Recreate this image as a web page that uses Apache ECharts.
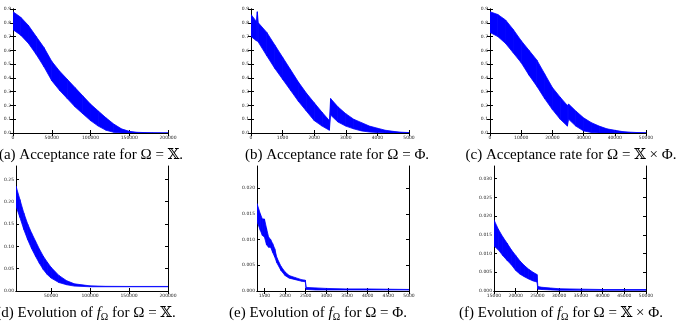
<!DOCTYPE html>
<html>
<head>
<meta charset="utf-8">
<script src="https://cdn.jsdelivr.net/npm/echarts@6/dist/echarts.min.js"></script>
<style>
html, body { margin: 0; padding: 0; background: #fff; }
#main { width: 678px; height: 322px; }
</style>
</head>
<body>
<div id="main"></div>
<script>
// (a) acceptance rate, Omega = X
var aX     = [0, 10000, 20000, 30000, 40000, 50000, 60000, 70000, 80000, 90000, 100000, 110000, 120000, 130000, 140000, 150000, 160000, 170000, 180000, 190000, 200000];
var aUpper = [0.88, 0.84, 0.78, 0.70, 0.62, 0.52, 0.45, 0.39, 0.33, 0.27, 0.21, 0.16, 0.11, 0.065, 0.03, 0.012, 0.005, 0.003, 0.002, 0.001, 0.001];
var aLower = [0.75, 0.71, 0.65, 0.57, 0.48, 0.38, 0.31, 0.25, 0.19, 0.14, 0.09, 0.05, 0.02, 0.005, 0, 0, 0, 0, 0, 0, 0];

// (b) acceptance rate, Omega = Phi
var bX     = [0, 170, 200, 230, 500, 750, 1000, 1250, 1500, 1750, 2000, 2250, 2480, 2520, 2750, 3000, 3250, 3500, 3750, 4000, 4250, 4500, 4750, 5000];
var bUpper = [0.86, 0.81, 0.88, 0.80, 0.73, 0.64, 0.55, 0.46, 0.37, 0.29, 0.22, 0.15, 0.09, 0.25, 0.19, 0.14, 0.10, 0.075, 0.05, 0.035, 0.02, 0.012, 0.006, 0.003];
var bLower = [0.70, 0.67, 0.67, 0.66, 0.56, 0.47, 0.39, 0.31, 0.23, 0.16, 0.09, 0.05, 0.02, 0.13, 0.08, 0.05, 0.03, 0.015, 0.007, 0.003, 0, 0, 0, 0];

// (c) acceptance rate, Omega = X x Phi
var cX     = [0, 2500, 5000, 7500, 10000, 12500, 15000, 17500, 20000, 22500, 24800, 25200, 27500, 30000, 32500, 35000, 37500, 40000, 42500, 45000, 47500, 50000];
var cUpper = [0.88, 0.86, 0.82, 0.75, 0.67, 0.60, 0.53, 0.43, 0.33, 0.26, 0.20, 0.21, 0.16, 0.11, 0.075, 0.05, 0.03, 0.02, 0.01, 0.006, 0.003, 0.002];
var cLower = [0.73, 0.70, 0.65, 0.58, 0.51, 0.42, 0.34, 0.25, 0.17, 0.10, 0.05, 0.10, 0.05, 0.015, 0.004, 0, 0, 0, 0, 0, 0, 0];

// (d) evolution of f, Omega = X
var dX     = [5000, 10000, 15000, 20000, 25000, 30000, 35000, 40000, 45000, 50000, 60000, 70000, 80000, 100000, 120000, 150000, 200000];
var dUpper = [0.235, 0.205, 0.175, 0.150, 0.130, 0.112, 0.094, 0.078, 0.065, 0.053, 0.035, 0.023, 0.016, 0.0115, 0.0105, 0.0102, 0.0102];
var dLower = [0.190, 0.165, 0.138, 0.115, 0.095, 0.078, 0.062, 0.048, 0.037, 0.029, 0.019, 0.014, 0.011, 0.0095, 0.0095, 0.0095, 0.0095];

// (e) evolution of f, Omega = Phi
var eX     = [1320, 1400, 1450, 1500, 1550, 1600, 1650, 1700, 1750, 1800, 1900, 2000, 2100, 2250, 2400, 2490, 2510, 2750, 3000, 3500, 4000, 5000];
var eUpper = [0.0170, 0.0150, 0.0140, 0.0140, 0.0122, 0.0105, 0.0100, 0.0092, 0.0082, 0.0065, 0.0048, 0.0037, 0.0030, 0.0026, 0.0022, 0.0021, 0.0007, 0.0006, 0.0005, 0.0004, 0.0004, 0.0003];
var eLower = [0.0135, 0.0118, 0.0108, 0.0105, 0.0090, 0.0085, 0.0085, 0.0075, 0.0066, 0.0055, 0.0040, 0.0030, 0.0025, 0.0022, 0.0019, 0.0018, 0.0003, 0.0002, 0.0002, 0.0002, 0.0002, 0.0002];

// (f) evolution of f, Omega = X x Phi
var fX     = [15000, 16000, 17000, 18000, 19000, 20000, 21000, 22000, 23000, 24000, 24900, 25100, 26000, 28000, 30000, 35000, 40000, 50000];
var fUpper = [0.0190, 0.0165, 0.0145, 0.0128, 0.0110, 0.0095, 0.0080, 0.0068, 0.0058, 0.0050, 0.0044, 0.0012, 0.0010, 0.0008, 0.0006, 0.0005, 0.0004, 0.0004];
var fLower = [0.0120, 0.0110, 0.0095, 0.0082, 0.0070, 0.0055, 0.0045, 0.0038, 0.0032, 0.0027, 0.0024, 0.0005, 0.0004, 0.0003, 0.0002, 0.0002, 0.0002, 0.0002];

// tick labels
var aXTicks = [0, 50000, 100000, 150000, 200000];
var bXTicks = [0, 1000, 2000, 3000, 4000, 5000];
var cXTicks = [0, 10000, 20000, 30000, 40000, 50000];
var dXTicks = [50000, 100000, 150000, 200000];
var eXTicks = [1500, 2000, 2500, 3000, 3500, 4000, 4500, 5000];
var fXTicks = [15000, 20000, 25000, 30000, 35000, 40000, 45000, 50000];
var rateYTicks = [0, 0.1, 0.2, 0.3, 0.4, 0.5, 0.6, 0.7, 0.8, 0.9];
var dYTicks = [0, 0.05, 0.10, 0.15, 0.20, 0.25];
var eYTicks = [0, 0.005, 0.010, 0.015, 0.020];
var fYTicks = [0, 0.005, 0.010, 0.015, 0.020, 0.025, 0.030];

var captions = [
    '(a) Acceptance rate for Ω = 𝕏.',
    '(b) Acceptance rate for Ω = Φ.',
    '(c) Acceptance rate for Ω = 𝕏 × Φ.',
    '(d) Evolution of {i|f}{s|Ω} for Ω = 𝕏.',
    '(e) Evolution of {i|f}{s|Ω} for Ω = Φ.',
    '(f) Evolution of {i|f}{s|Ω} for Ω = 𝕏 × Φ.'
];

var panels = [
    { grid: {left: 13,  top: 9,   width: 155, height: 124}, xs: aX, up: aUpper, lo: aLower, xMin: 0,    xMax: 200000, yMax: 0.9,    xt: aXTicks, yt: rateYTicks, dec: 1, cx: 91,  cy: 155 },
    { grid: {left: 251, top: 9,   width: 158, height: 124}, xs: bX, up: bUpper, lo: bLower, xMin: 0,    xMax: 5000,   yMax: 0.9,    xt: bXTicks, yt: rateYTicks, dec: 1, cx: 337, cy: 155 },
    { grid: {left: 490, top: 9,   width: 156, height: 124}, xs: cX, up: cUpper, lo: cLower, xMin: 0,    xMax: 50000,  yMax: 0.9,    xt: cXTicks, yt: rateYTicks, dec: 1, cx: 571, cy: 155 },
    { grid: {left: 16,  top: 166, width: 152, height: 125}, xs: dX, up: dUpper, lo: dLower, xMin: 5000, xMax: 200000, yMax: 0.28,   xt: dXTicks, yt: dYTicks,    dec: 2, cx: 86,  cy: 313 },
    { grid: {left: 257, top: 166, width: 152, height: 125}, xs: eX, up: eUpper, lo: eLower, xMin: 1320, xMax: 5000,   yMax: 0.0243, xt: eXTicks, yt: eYTicks,    dec: 3, cx: 318, cy: 313 },
    { grid: {left: 494, top: 166, width: 152, height: 125}, xs: fX, up: fUpper, lo: fLower, xMin: 15000,xMax: 50000,  yMax: 0.0334, xt: fXTicks, yt: fYTicks,    dec: 3, cx: 561, cy: 313 }
];

var tickFont = { fontSize: 4.5, color: '#222', fontFamily: 'DejaVu Sans' };
var axLine = { lineStyle: { color: '#000', width: 1 } };

var grids = [], xAxes = [], yAxes = [], series = [], graphics = [];

panels.forEach(function (p, i) {
    grids.push(p.grid);
    // bottom and top x axes
    [false, true].forEach(function (isTop) {
        xAxes.push({
            type: 'value', gridIndex: i, min: p.xMin, max: p.xMax,
            position: isTop ? 'top' : 'bottom',
            axisLine: axLine, splitLine: { show: false },
            axisTick: { inside: true, length: 3, lineStyle: { color: '#000' }, customValues: p.xt },
            axisLabel: Object.assign({
                show: !isTop, margin: 2, customValues: p.xt,
                formatter: function (v) { return String(Math.round(v)); }
            }, tickFont)
        });
    });
    // left and right y axes
    [false, true].forEach(function (isRight) {
        yAxes.push({
            type: 'value', gridIndex: i, min: 0, max: p.yMax,
            position: isRight ? 'right' : 'left',
            axisLine: axLine, splitLine: { show: false },
            axisTick: { inside: true, length: 3, lineStyle: { color: '#000' }, customValues: p.yt },
            axisLabel: Object.assign({
                show: !isRight, margin: 2, customValues: p.yt,
                formatter: (function (dec) { return function (v) { return v.toFixed(dec); }; })(p.dec)
            }, tickFont)
        });
    });
    // band: one quad from each point to the next, upper and lower edges
    var band = p.xs.map(function (x, k) { return [x, p.lo[k], p.up[k]]; });
    series.push({
        type: 'custom', xAxisIndex: 2 * i, yAxisIndex: 2 * i,
        data: band, silent: true, clip: true,
        encode: { x: 0, y: [1, 2] },
        renderItem: function (params, api) {
            var k = params.dataIndex;
            if (k >= band.length - 1) return null;
            var n = band[k + 1];
            var pts = [
                api.coord([api.value(0), api.value(2)]),
                api.coord([n[0], n[2]]),
                api.coord([n[0], n[1]]),
                api.coord([api.value(0), api.value(1)])
            ];
            return {
                type: 'polygon',
                shape: { points: pts },
                style: { fill: '#0000ff', stroke: '#0000ff', lineWidth: 0.8 }
            };
        }
    });
    graphics.push({
        type: 'text', x: p.cx, y: p.cy,
        style: {
            text: captions[i], textAlign: 'center', textVerticalAlign: 'middle',
            fontFamily: 'Liberation Serif, DejaVu Serif, serif', fontSize: 15, fill: '#000',
            rich: {
                i: { fontFamily: 'Liberation Serif', fontStyle: 'italic', fontSize: 15 },
                s: { fontFamily: 'Liberation Serif', fontSize: 10, padding: [8, 0, 0, 0] }
            }
        }
    });
});

var chart = echarts.init(document.getElementById('main'));
chart.setOption({
    animation: false,
    grid: grids,
    xAxis: xAxes,
    yAxis: yAxes,
    series: series,
    graphic: graphics
});
</script>
</body>
</html>
